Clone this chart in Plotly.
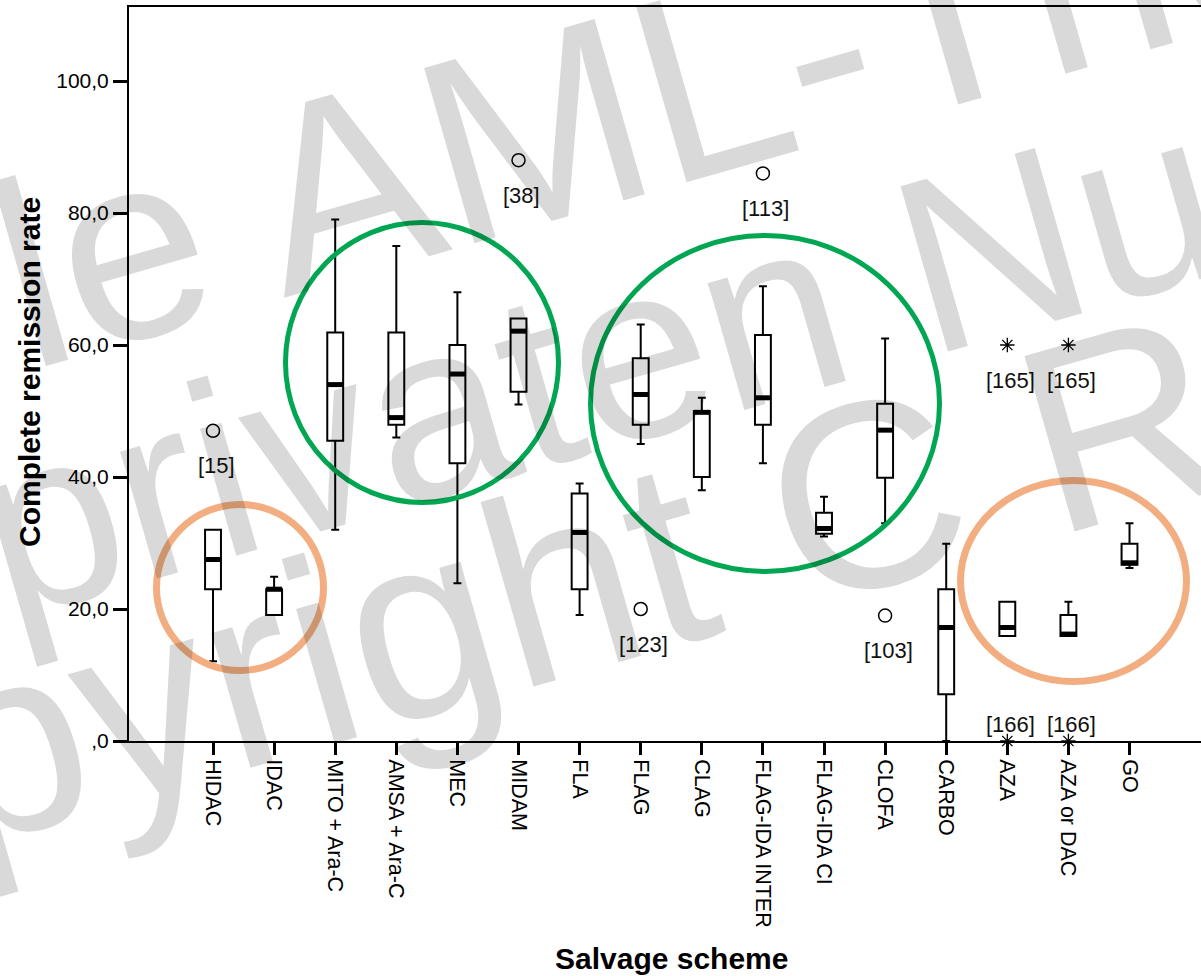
import plotly.graph_objects as go

# Salvage schemes and complete remission rate (%) box statistics
schemes = ["HIDAC", "IDAC", "MITO + Ara-C", "AMSA + Ara-C", "MEC", "MIDAM", "FLA",
           "FLAG", "CLAG", "FLAG-IDA INTER", "FLAG-IDA CI", "CLOFA", "CARBO", "AZA",
           "AZA or DAC", "GO"]
whisker_low = [12.1, 19.1, 32.0, 46.0, 23.9, 51.0, 19.1, 45.0, 38.0, 42.1, 31.0, 33.0, 0.0, 15.9, 15.9, 26.2]
q1 = [23.0, 19.1, 45.5, 47.9, 42.1, 52.9, 23.0, 47.9, 40.0, 47.9, 31.4, 39.9, 7.1, 15.9, 15.9, 26.7]
median = [27.5, 23.0, 54.0, 49.0, 55.6, 62.1, 31.6, 52.5, 49.8, 52.0, 32.2, 47.1, 17.2, 17.2, 16.2, 27.0]
q3 = [32.0, 23.0, 61.9, 61.9, 60.0, 64.0, 37.5, 58.0, 50.0, 61.5, 34.6, 51.1, 23.0, 21.1, 19.1, 29.9]
whisker_high = [32.0, 24.9, 79.0, 75.0, 68.0, 64.0, 39.0, 63.1, 52.0, 68.9, 37.0, 61.0, 29.9, 21.1, 21.1, 33.0]

# Outliers (circle) and extreme values (asterisk) with study reference numbers
outlier_scheme = ["HIDAC", "MIDAM", "FLAG", "FLAG-IDA INTER", "CLOFA"]
outlier_value = [47.0, 88.0, 20.0, 86.0, 19.0]
outlier_ref = ["[15]", "[38]", "[123]", "[113]", "[103]"]
extreme_scheme = ["AZA", "AZA or DAC", "AZA", "AZA or DAC"]
extreme_value = [60.0, 60.0, 0.0, 0.0]
extreme_ref = ["[165]", "[165]", "[166]", "[166]"]

y_ticks = [0, 20, 40, 60, 80, 100]
y_tick_text = [",0", "20,0", "40,0", "60,0", "80,0", "100,0"]

FONT = "Liberation Sans, Arial, sans-serif"
BOX_W = 0.26

W, H = 1201, 976
ML, MR, MT, MB = 129, 0, 7, 235
PW, PH = W - ML - MR, H - MT - MB


def px(xp):
    return (xp - ML) / PW


def py(yp):
    return (H - MB - yp) / PH


fig = go.Figure()
xs = list(range(len(schemes)))

for i, name in enumerate(schemes):
    fig.add_trace(go.Box(
        x=[i], q1=[q1[i]], median=[median[i]], q3=[q3[i]],
        lowerfence=[whisker_low[i]], upperfence=[whisker_high[i]],
        width=BOX_W, whiskerwidth=0.5, boxpoints=False,
        line=dict(color="black", width=2), fillcolor="rgba(255,255,255,0)",
        showlegend=False, hoverinfo="skip", name=name,
    ))

# thick median bars
mx, my = [], []
for i, m in enumerate(median):
    mx += [i - BOX_W / 2, i + BOX_W / 2, None]
    my += [m, m, None]
fig.add_trace(go.Scatter(x=mx, y=my, mode="lines", line=dict(color="black", width=5),
                         showlegend=False, hoverinfo="skip"))

ox = [schemes.index(s) for s in outlier_scheme]
fig.add_trace(go.Scatter(x=ox, y=outlier_value, mode="markers",
                         marker=dict(symbol="circle-open", size=13, color="black",
                                     line=dict(width=1.5, color="black")),
                         showlegend=False, hoverinfo="skip", cliponaxis=False))
ex = [schemes.index(s) for s in extreme_scheme]
fig.add_trace(go.Scatter(x=ex, y=extreme_value, mode="markers",
                         marker=dict(symbol="asterisk-open", size=12, color="black",
                                     line=dict(width=1.3, color="black")),
                         showlegend=False, hoverinfo="skip", cliponaxis=False))

annotations = []
for x, v, t in zip(ox + ex, outlier_value + extreme_value, outlier_ref + extreme_ref):
    shift = 17 if v == 0 else -35
    annotations.append(dict(x=x, y=v, xref="x", yref="y", text=t, showarrow=False,
                            yshift=shift, xshift=3,
                            font=dict(family=FONT, size=22, color="#111")))

# axis titles
annotations.append(dict(x=px(30), y=py(372), xref="paper", yref="paper",
                        xanchor="center", yanchor="middle",
                        text="<b>Complete remission rate</b>", textangle=-90,
                        showarrow=False, font=dict(family=FONT, size=30, color="black")))
annotations.append(dict(x=px(671), y=py(958), xref="paper", yref="paper",
                        xanchor="center", yanchor="middle",
                        text="<b>Salvage scheme</b>", showarrow=False,
                        font=dict(family=FONT, size=30, color="black")))

# grey watermark lettering
wm = dict(xref="paper", yref="paper", showarrow=False, textangle=-16,
          xanchor="center", yanchor="middle",
          font=dict(family=FONT, size=265, color="rgba(0,0,0,0.15)"))
annotations.append(dict(wm, x=px(654), y=py(96), text="le AML-The"))
annotations.append(dict(wm, x=px(690), y=py(335), text="privaten Nutz",
                        font=dict(family=FONT, size=250, color="rgba(0,0,0,0.15)")))
annotations.append(dict(wm, x=px(575), y=py(580), text="pyright C R"))

# highlight ellipses
shapes = []
for (x0, x1, y0, y1), col, lw in [
    ((285.5, 558.5, 222.5, 502.5), "#00A651", 5),
    ((590.5, 939.5, 235.5, 571.5), "#00A651", 5),
    ((156.5, 323.5, 504.5, 670.5), "#F2AE80", 7),
    ((960.5, 1186.5, 480.5, 681.5), "#F2AE80", 7),
]:
    shapes.append(dict(type="circle", xref="paper", yref="paper",
                       x0=px(x0), x1=px(x1), y0=py(y1), y1=py(y0),
                       line=dict(color=col, width=lw)))

fig.update_layout(
    width=W, height=H,
    margin=dict(l=ML, r=MR, t=MT, b=MB),
    paper_bgcolor="white", plot_bgcolor="white",
    annotations=annotations, shapes=shapes,
    xaxis=dict(range=[-1.375, 16.17], tickvals=xs, ticktext=schemes, tickangle=90,
               ticks="outside", ticklen=12, tickwidth=3, tickcolor="black",
               showline=True, linecolor="black", linewidth=2, mirror=True,
               showgrid=False, zeroline=False,
               tickfont=dict(family=FONT, size=21.5, color="black")),
    yaxis=dict(range=[0, PH / 6.6], tickvals=y_ticks, ticktext=y_tick_text,
               ticks="outside", ticklen=14, tickwidth=3, tickcolor="black",
               showline=True, linecolor="black", linewidth=2,
               showgrid=False, zeroline=False,
               tickfont=dict(family=FONT, size=21, color="black")),
)

fig.write_html("out.html")
